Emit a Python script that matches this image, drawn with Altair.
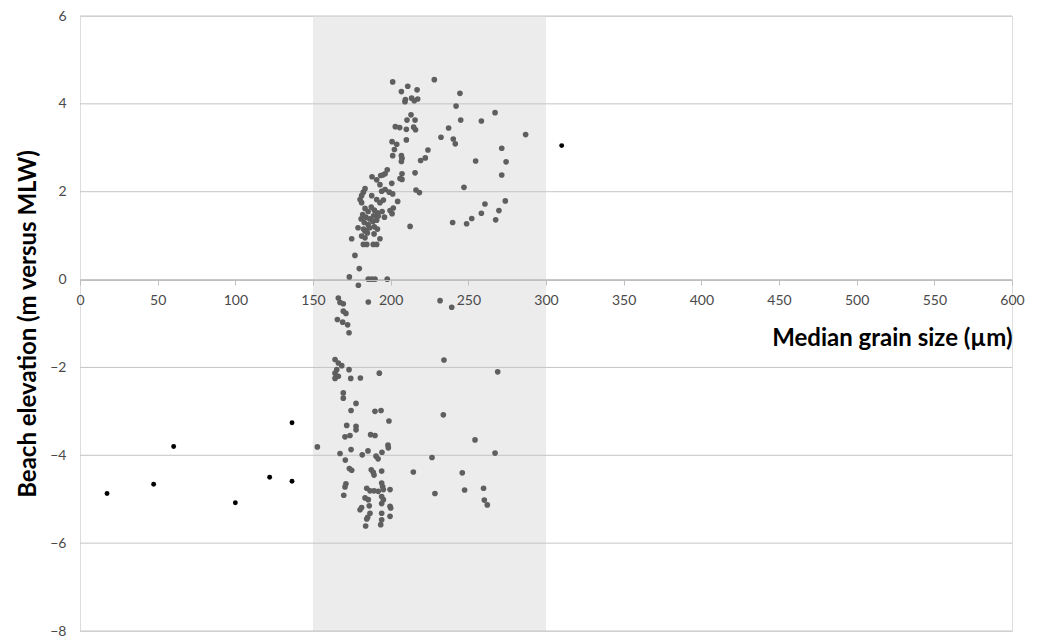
import altair as alt
import pandas as pd

# Gray sample points (median grain size µm, beach elevation m vs MLW)
gray_x = [201.3, 228.1, 206.9, 211.0, 217.0, 209.2, 209.5, 213.5, 215.2, 217.4,
          244.6, 242.1, 245.1, 258.4, 267.2, 286.9, 237.3, 232.4, 240.3, 241.6,
          224.0, 222.3, 219.3, 215.7, 216.3, 218.5, 212.5, 213.1, 210.5, 215.7,
          203.0, 205.8, 210.1, 214.8, 216.0, 210.1, 200.9, 203.9, 202.4, 201.3,
          206.9, 207.3, 206.9, 254.7, 271.5, 274.3, 271.5, 247.2, 260.7, 273.8,
          269.7, 258.4, 252.2, 248.9, 239.9, 267.6, 207.3, 206.0, 207.3, 197.8,
          194.9, 193.6, 188.0, 191.0, 200.7, 204.5, 201.7, 199.6, 200.9, 196.4,
          193.1, 183.5, 182.4, 181.3, 180.3, 181.3, 187.8, 194.2, 196.4, 199.1,
          201.3, 191.0, 193.1, 195.3, 183.5, 185.5, 187.5, 189.5, 191.5, 182.0,
          184.0, 186.5, 189.0, 192.0, 181.0, 183.0, 185.5, 188.5, 191.0, 182.5,
          184.5, 186.5, 189.5, 191.5, 179.0, 183.5, 194.5, 196.0, 185.0, 181.3,
          183.5, 189.3, 174.9, 182.4, 184.6, 188.8, 191.0, 193.1, 177.0, 179.8,
          173.4, 185.6, 187.8, 189.9, 197.8, 179.2,
          185.6, 231.8, 239.3, 166.3, 167.4, 169.5, 169.5, 171.2, 165.7, 169.1,
          172.3, 173.2, 164.2, 166.3, 168.5, 165.3, 164.2, 166.3, 164.2, 173.2,
          174.3, 180.5, 192.7, 234.3, 268.9, 169.5, 169.5, 177.7, 174.5, 189.9,
          193.8, 198.9, 233.9, 171.7, 177.7, 177.7, 170.6, 173.8, 187.1, 189.9,
          198.3, 198.5, 152.8, 254.3, 174.5, 167.4, 181.7, 185.4, 190.6, 191.9,
          194.4, 170.8, 173.4, 174.9, 187.5, 188.8, 189.3, 194.2, 214.6, 226.6,
          267.2, 246.1, 171.2, 170.6, 169.8, 184.6, 186.7, 189.3, 192.0, 194.2,
          194.8, 195.3, 199.6, 183.5, 185.6, 194.2, 195.3, 194.2, 199.6, 200.0,
          181.3, 180.3, 186.2, 186.7, 185.2, 184.6, 194.2, 194.2, 193.6, 199.6,
          183.9, 228.5, 247.6, 259.8, 260.3, 262.2]
gray_y = [4.50, 4.55, 4.28, 4.40, 4.32, 4.05, 4.10, 4.13, 4.07, 4.11,
          4.24, 3.95, 3.63, 3.61, 3.80, 3.30, 3.45, 3.24, 3.20, 3.09,
          2.95, 2.77, 2.71, 2.43, 2.04, 1.98, 1.21, 3.75, 3.63, 3.63,
          3.48, 3.46, 3.42, 3.47, 3.41, 3.18, 3.14, 3.08, 2.96, 2.82,
          2.82, 2.76, 2.69, 2.70, 2.99, 2.68, 2.38, 2.10, 1.72, 1.79,
          1.57, 1.51, 1.39, 1.27, 1.30, 1.36, 2.41, 2.30, 2.28, 2.50,
          2.38, 2.37, 2.34, 2.27, 2.19, 1.78, 1.63, 1.57, 1.50, 2.41,
          2.16, 2.07, 1.99, 1.91, 1.82, 1.75, 1.91, 2.01, 2.05, 1.99,
          1.95, 1.82, 1.75, 1.81, 1.62, 1.55, 1.65, 1.58, 1.52, 1.48,
          1.42, 1.38, 1.45, 1.45, 1.38, 1.30, 1.25, 1.32, 1.35, 1.15,
          1.12, 1.18, 1.20, 1.15, 1.18, 1.10, 1.55, 1.42, 1.06, 0.99,
          0.95, 1.04, 0.93, 0.80, 0.80, 0.80, 0.80, 0.93, 0.55, 0.25,
          0.06, 0.01, 0.01, 0.01, 0.01, -0.13,
          -0.51, -0.48, -0.63, -0.42, -0.52, -0.55, -0.72, -0.77, -0.91, -0.97,
          -1.03, -1.21, -1.82, -1.90, -1.96, -2.05, -2.13, -2.20, -2.25, -2.05,
          -2.25, -2.24, -2.13, -1.83, -2.10, -2.58, -2.70, -2.82, -2.98, -3.00,
          -2.98, -3.22, -3.08, -3.32, -3.34, -3.42, -3.58, -3.55, -3.53, -3.55,
          -3.77, -3.83, -3.81, -3.65, -3.87, -3.96, -3.99, -3.90, -4.02, -4.08,
          -3.93, -4.11, -4.30, -4.34, -4.33, -4.39, -4.45, -4.36, -4.38, -4.05,
          -3.95, -4.40, -4.65, -4.72, -4.91, -4.75, -4.81, -4.81, -4.82, -4.63,
          -4.71, -4.78, -4.78, -4.97, -5.01, -4.94, -5.01, -5.10, -5.16, -5.20,
          -5.19, -5.24, -5.15, -5.32, -5.41, -5.45, -5.32, -5.47, -5.58, -5.39,
          -5.61, -4.87, -4.79, -4.75, -5.02, -5.13]

# Black (outlier) points
black_x = [17.4, 47.4, 60.3, 100.0, 122.1, 136.5, 136.5, 310.1]
black_y = [-4.87, -4.66, -3.80, -5.08, -4.50, -3.26, -4.59, 3.05]

# Shaded grain-size band
band_start = [150]
band_end = [300]
band_low = [-8]
band_high = [6]

grid_values = [-8, -6, -4, -2, 0, 2, 4, 6]
x_ticks = list(range(0, 601, 50))

FONT = "Lato"
LABEL_COLOR = "#4a4a4a"
xscale = alt.Scale(domain=[0, 600], nice=False, zero=False)
yscale = alt.Scale(domain=[-8, 6], nice=False, zero=False)

gray_df = pd.DataFrame({"x": gray_x, "y": gray_y})
black_df = pd.DataFrame({"x": black_x, "y": black_y})
band_df = pd.DataFrame({"x": band_start, "x2": band_end, "y": band_low, "y2": band_high})
grid_df = pd.DataFrame({"y": grid_values})

band = alt.Chart(band_df).mark_rect(color="#ececec").encode(
    x=alt.X("x:Q", scale=xscale,
            axis=alt.Axis(values=x_ticks, orient="bottom", offset=-351, grid=False,
                          zindex=1, labelFlush=False,
                          domainColor="#bfbfbf", tickColor="#bfbfbf", tickSize=5,
                          labelColor=LABEL_COLOR, labelFontSize=14, labelFont=FONT,
                          labelPadding=8,
                          title="Median grain size (µm)", titleFont=FONT,
                          titleFontSize=24, titleFontWeight="bold", titleColor="#000000",
                          titleAlign="right", titleX=932, titleY=65,
                          titleBaseline="alphabetic", titleAngle=0)),
    x2="x2:Q",
    y=alt.Y("y:Q", scale=yscale,
            axis=alt.Axis(values=grid_values, grid=False, domain=False, ticks=False,
                          labelFlush=False,
                          labelColor=LABEL_COLOR, labelFontSize=14, labelFont=FONT,
                          labelPadding=14,
                          title="Beach elevation (m versus MLW)", titleFont=FONT,
                          titleFontSize=24, titleFontWeight="bold", titleColor="#000000",
                          titleAngle=270, titleX=-52, titleY=307.5,
                          titleAlign="center", titleBaseline="middle")),
    y2="y2:Q",
)

grid = alt.Chart(grid_df).mark_rule(color="#c4c4c4", strokeWidth=1).encode(
    y=alt.Y("y:Q", scale=yscale)
)

gray_pts = alt.Chart(gray_df).mark_circle(color="#5f5f5f", size=32, opacity=1).encode(
    x=alt.X("x:Q", scale=xscale), y=alt.Y("y:Q", scale=yscale)
)
black_pts = alt.Chart(black_df).mark_circle(color="#000000", size=24, opacity=1).encode(
    x=alt.X("x:Q", scale=xscale), y=alt.Y("y:Q", scale=yscale)
)

chart = alt.layer(band, grid, gray_pts, black_pts).properties(
    width=932, height=615,
    autosize=alt.AutoSizeParams(type="none"),
    padding={"left": 72, "top": 8, "right": 22, "bottom": 8},
).configure_view(stroke=None).configure(background="#ffffff")

chart.save("out.html", embed_options={"renderer": "svg", "actions": False})
